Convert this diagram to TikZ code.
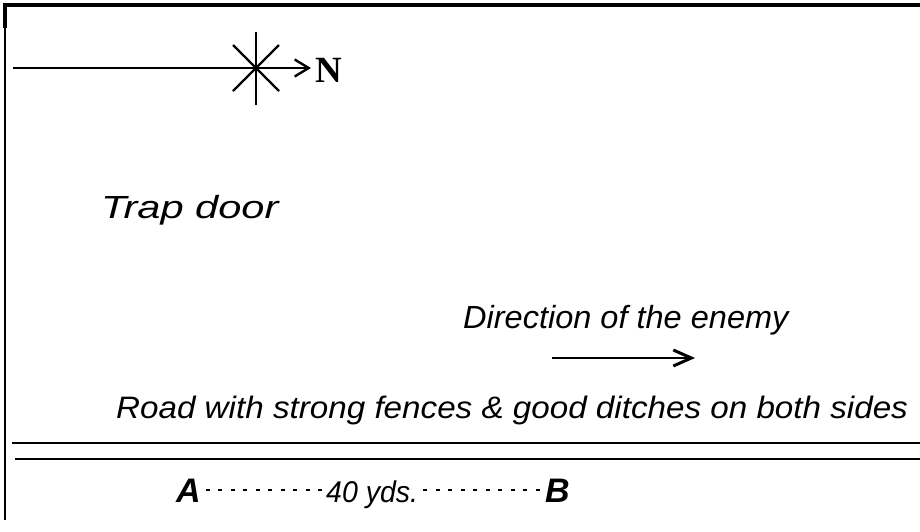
\documentclass[tikz,border=0pt]{standalone}
\usepackage{fontspec}
\setmainfont{Liberation Sans}
\newfontfamily\nfont{Liberation Serif}
\usetikzlibrary{arrows.meta,calc}
\begin{document}
\begin{tikzpicture}[x=1pt,y=-1pt,
  lbl/.style={inner sep=0pt, anchor=base west, font=\fontsize{31}{31}\selectfont\itshape},
  biglbl/.style={inner sep=0pt, anchor=base west, font=\fontsize{34}{34}\selectfont\bfseries\itshape},
  rule/.style={line width=2.6pt},
  dotline/.style={line width=2pt, dash pattern=on 4pt off 8.5pt},
  frame/.style={line width=4pt, line join=miter},
  starline/.style={line width=2.2pt},
]
\useasboundingbox (0,0) rectangle (920,531);
\fill[white] (0,0) rectangle (920,531);
% frame
\draw[frame] (5,28) -- (5,5) -- (921,5);
\draw[line width=2.2pt] (5,27) -- (5,520);
% compass
\coordinate (c) at (256,68);
\coordinate (tail) at (13,68);
\node[inner sep=0pt, anchor=base west, font=\nfont\fontsize{37}{37}\selectfont\bfseries] (N) at (315,82) {N};
\draw[line width=2.6pt, -{Straight Barb[length=14pt,width=17pt,line width=2.4pt]}, shorten >=4pt] (tail) -- (N.west |- c);
\draw[starline] (c) ++(0,-36) -- ++(0,73);
\draw[starline] (c) ++(-23,-23) -- ++(46,46);
\draw[starline] (c) ++(23,-23) -- ++(-46,46);
% labels
\node[lbl, font=\fontsize{32}{32}\selectfont\itshape] (trap) at (101,218) {\scalebox{1.30}[1]{Trap door}};
\node[lbl, font=\fontsize{32}{32}\selectfont\itshape] (dir) at (463,328) {\scalebox{1.016}[1]{Direction of the enemy}};
\coordinate (d1) at (552,358);
\coordinate (d2) at (695,358);
\draw[line width=2.6pt, -{Straight Barb[length=18pt,width=16pt,line width=3pt]}] (d1) -- (d2);
\node[lbl] (road) at (116,418) {\scalebox{1.071}[1]{Road with strong fences \& good ditches on both sides}};
% road
\draw[rule] (12,443) -- (921,443);
\draw[rule] (15,459) -- (921,459);
% scale A - B
\node[biglbl] (A) at (176,502) {A};
\node[lbl, font=\fontsize{30}{30}\selectfont\itshape] (yds) at (326,502) {\scalebox{0.95}[1]{40 yds.}};
\node[biglbl] (B) at (545,502) {B};
\draw[dotline] ($(A.base east)+(5,-12)$) -- ($(yds.base west)+(-2,-12)$);
\draw[dotline] ($(yds.base east)+(5,-12)$) -- ($(B.base west)+(-2,-12)$);
\end{tikzpicture}
\end{document}
